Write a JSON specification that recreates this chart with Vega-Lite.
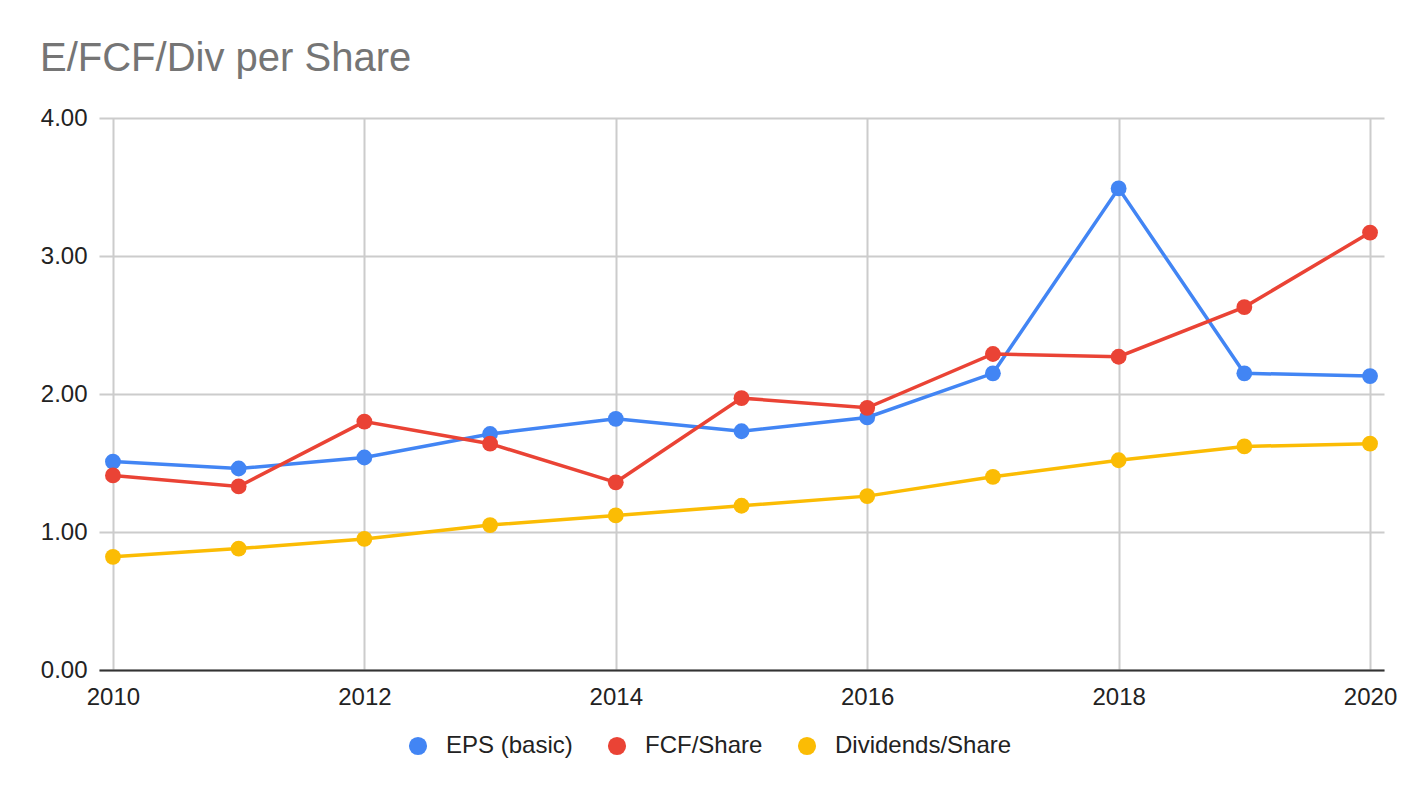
{
  "$schema": "https://vega.github.io/schema/vega-lite/v6.json",
  "width": 1285,
  "height": 552,
  "autosize": "none",
  "padding": {"left": 99, "top": 118, "right": 40, "bottom": 128},
  "background": "white",
  "title": {
    "text": "E/FCF/Div per Share",
    "anchor": "start",
    "frame": "group",
    "dx": -59,
    "offset": -5,
    "baseline": "alphabetic",
    "font": "Liberation Sans",
    "fontSize": 40,
    "fontWeight": "normal",
    "color": "#757575"
  },
  "data": {
    "values": [
      {"year": 2010, "series": "EPS (basic)", "value": 1.51},
      {"year": 2011, "series": "EPS (basic)", "value": 1.46},
      {"year": 2012, "series": "EPS (basic)", "value": 1.54},
      {"year": 2013, "series": "EPS (basic)", "value": 1.71},
      {"year": 2014, "series": "EPS (basic)", "value": 1.82},
      {"year": 2015, "series": "EPS (basic)", "value": 1.73},
      {"year": 2016, "series": "EPS (basic)", "value": 1.83},
      {"year": 2017, "series": "EPS (basic)", "value": 2.15},
      {"year": 2018, "series": "EPS (basic)", "value": 3.49},
      {"year": 2019, "series": "EPS (basic)", "value": 2.15},
      {"year": 2020, "series": "EPS (basic)", "value": 2.13},
      {"year": 2010, "series": "FCF/Share", "value": 1.41},
      {"year": 2011, "series": "FCF/Share", "value": 1.33},
      {"year": 2012, "series": "FCF/Share", "value": 1.80},
      {"year": 2013, "series": "FCF/Share", "value": 1.64},
      {"year": 2014, "series": "FCF/Share", "value": 1.36},
      {"year": 2015, "series": "FCF/Share", "value": 1.97},
      {"year": 2016, "series": "FCF/Share", "value": 1.90},
      {"year": 2017, "series": "FCF/Share", "value": 2.29},
      {"year": 2018, "series": "FCF/Share", "value": 2.27},
      {"year": 2019, "series": "FCF/Share", "value": 2.63},
      {"year": 2020, "series": "FCF/Share", "value": 3.17},
      {"year": 2010, "series": "Dividends/Share", "value": 0.82},
      {"year": 2011, "series": "Dividends/Share", "value": 0.88},
      {"year": 2012, "series": "Dividends/Share", "value": 0.95},
      {"year": 2013, "series": "Dividends/Share", "value": 1.05},
      {"year": 2014, "series": "Dividends/Share", "value": 1.12},
      {"year": 2015, "series": "Dividends/Share", "value": 1.19},
      {"year": 2016, "series": "Dividends/Share", "value": 1.26},
      {"year": 2017, "series": "Dividends/Share", "value": 1.40},
      {"year": 2018, "series": "Dividends/Share", "value": 1.52},
      {"year": 2019, "series": "Dividends/Share", "value": 1.62},
      {"year": 2020, "series": "Dividends/Share", "value": 1.64}
    ]
  },
  "encoding": {
    "x": {
      "field": "year",
      "type": "quantitative",
      "scale": {"domain": [2009.889, 2020.111], "nice": false, "zero": false},
      "axis": {
        "title": null,
        "values": [2010, 2012, 2014, 2016, 2018, 2020],
        "format": "d",
        "grid": true,
        "gridColor": "#cccccc",
        "gridWidth": 2,
        "ticks": false,
        "domainColor": "#333333",
        "domainWidth": 2,
        "labelPadding": 15,
        "labelFont": "Liberation Sans",
        "labelFontSize": 24,
        "labelColor": "#222222"
      }
    },
    "y": {
      "field": "value",
      "type": "quantitative",
      "scale": {"domain": [0, 4], "nice": false},
      "axis": {
        "title": null,
        "values": [0, 1, 2, 3, 4],
        "format": ".2f",
        "grid": true,
        "gridColor": "#cccccc",
        "gridWidth": 2,
        "ticks": false,
        "domain": false,
        "labelPadding": 12,
        "labelFont": "Liberation Sans",
        "labelFontSize": 24,
        "labelColor": "#222222"
      }
    },
    "color": {
      "field": "series",
      "type": "nominal",
      "scale": {
        "domain": ["EPS (basic)", "FCF/Share", "Dividends/Share"],
        "range": ["#4285F4", "#EA4335", "#FBBC04"]
      },
      "legend": {
        "title": null,
        "orient": "none",
        "direction": "horizontal",
        "legendX": 307,
        "legendY": 616,
        "symbolType": "circle",
        "symbolSize": 330,
        "symbolStrokeWidth": 0,
        "symbolOpacity": 1,
        "labelFont": "Liberation Sans",
        "labelFontSize": 24,
        "labelColor": "#222222",
        "labelLimit": 400,
        "labelOffset": 16,
        "columnPadding": 32
      }
    }
  },
  "layer": [
    {"mark": {"type": "line", "strokeWidth": 3.5}},
    {"mark": {"type": "point", "filled": true, "opacity": 1, "size": 250}}
  ],
  "config": {
    "view": {"stroke": null}
  }
}
